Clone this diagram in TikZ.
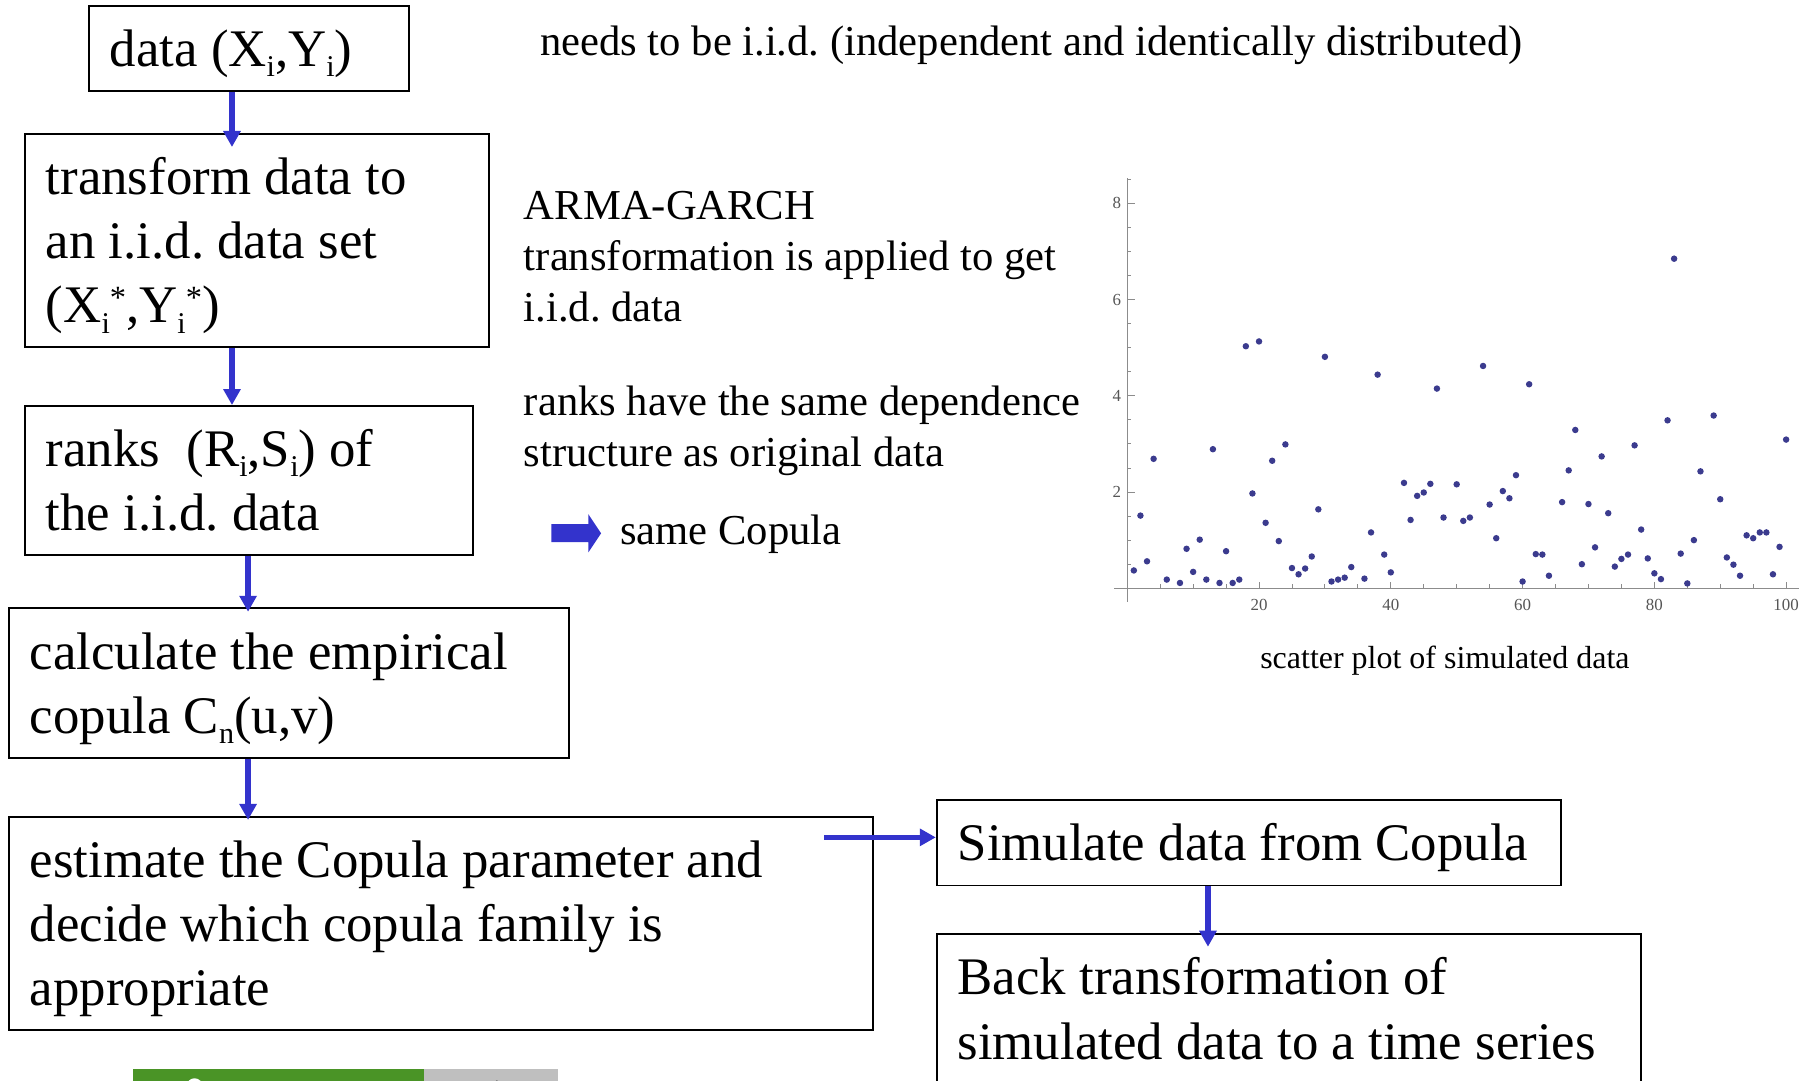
\documentclass[tikz,border=0pt]{standalone}
\usepackage{fontspec}
\setmainfont{Liberation Serif}
\usetikzlibrary{arrows.meta}
\definecolor{flowblue}{HTML}{3333CC}
\definecolor{dotblue}{HTML}{3B3B8E}
\definecolor{bargreen}{HTML}{4A9426}
\definecolor{bargrey}{HTML}{BFBFBF}
\definecolor{axisgrey}{HTML}{8C8C8C}
\definecolor{ticktext}{HTML}{555555}
\frenchspacing
\newcommand{\bxfont}{\fontsize{22.8pt}{27.7pt}\selectfont\hyphenpenalty=10000\exhyphenpenalty=10000}
\newcommand{\sdfont}{\fontsize{18.4pt}{22pt}\selectfont}
\newcommand{\bst}{\spaceskip=0pt\xspaceskip=0pt\rule[-5.5pt]{0pt}{26.5pt}}
\newcommand{\sst}{\spaceskip=0pt\xspaceskip=0pt\rule[-4pt]{0pt}{20pt}}
\newcommand{\sbx}[1]{\raisebox{-4.5pt}{\fontsize{13pt}{13pt}\selectfont #1}}
\newcommand{\spx}[1]{\raisebox{6pt}{\fontsize{14pt}{14pt}\selectfont #1}}
\begin{document}
\begin{tikzpicture}[x=0.5pt, y=-0.5pt,
  box/.style={draw, line width=0.85pt, anchor=north west, inner xsep=9pt, inner ysep=0pt, align=left, font=\bxfont},
  side/.style={inner sep=0pt, align=left, font=\sdfont},
  flow/.style={draw=flowblue, line width=2.4pt, -{Triangle[width=7.2pt,length=6.9pt]}},
  axl/.style={axisgrey, line width=0.5pt},
  ticklbl/.style={text=ticktext, font=\fontsize{7.3pt}{8pt}\selectfont, inner sep=0pt}]
\useasboundingbox (0,0) rectangle (1568,933);
\clip (0,0) rectangle (1568,933);

% flow boxes
\node[box, minimum width=138.2pt, minimum height=36.7pt, text width=120.2pt] (b1) at (76,4.3)
  {\bst data (X\sbx{i},Y\sbx{i})};
\node[box, minimum width=200.4pt, minimum height=92pt, text width=182.4pt] (b2) at (20.7,114.9)
  {\bst transform data to\\\bst an i.i.d. data set\\\bst (X\sbx{i}\spx{*},Y\sbx{i}\spx{*})};
\node[box, minimum width=193.5pt, minimum height=64.4pt, text width=175.5pt] (b3) at (20.7,349.7)
  {\bst ranks\ \ (R\sbx{i},S\sbx{i}) of\\\bst the i.i.d. data};
\node[box, minimum width=241.8pt, minimum height=64.8pt, text width=223.8pt] (b4) at (6.9,524.2)
  {\bst calculate the empirical\\\bst copula C\sbx{n}(u,v)};
\node[box, minimum width=372.9pt, minimum height=92pt, text width=354.9pt] (b5) at (6.9,704.7)
  {\bst estimate the Copula parameter and\\\bst decide which copula family is\\\bst appropriate};
\node[box, minimum width=269.5pt, minimum height=36.7pt, text width=251.5pt] (b6) at (808,690.3)
  {\bst Simulate data from Copula};
\node[box, minimum width=303.9pt, minimum height=65pt, text width=285.9pt] (b7) at (808,805.4)
  {\bst Back transformation of\\\bst simulated data to a time series};

% connectors
\coordinate (ax1) at (200.3,0);
\coordinate (ax3) at (214.2,0);
\coordinate (ax6) at (1043,0);
\coordinate (a5s) at (711.6,723);
\draw[flow, shorten >=-6pt] (b1.south -| ax1) -- (b2.north -| ax1);
\draw[flow] (b2.south -| ax1) -- (b3.north -| ax1);
\draw[flow, shorten >=-2pt] (b3.south -| ax3) -- (b4.north -| ax3);
\draw[flow, shorten >=-1.6pt] (b4.south -| ax3) -- (b5.north -| ax3);
\draw[flow] (a5s) -- (a5s -| b6.west);
\draw[flow, shorten >=-6pt] (b6.south -| ax6) -- (b7.north -| ax6);

% side texts
\node[side, anchor=base west] (n0) at (466,47.5)
  {needs to be i.i.d. (independent and identically distributed)};
\node[side, anchor=north west] (n1) at (452,157)
  {\sst ARMA-GARCH\\\sst transformation is applied to get\\\sst i.i.d. data};
\node[side, anchor=north west] (n2) at (452,326)
  {\sst ranks have the same dependence\\\sst structure as original data};
\fill[flowblue] (476,452.5) -- (508,452.5) -- (508,444) -- (519,460.5) -- (508,477) -- (508,468) -- (476,468) -- cycle;
\node[side, anchor=base west] (n3) at (535,470.5) {same Copula};

% scatter plot
\begin{scope}[shift={(973.3,507.9)}, x=2.8445pt, y=20.77pt]
  \draw[axl] (-2,0) -- (101.9,0);
  \draw[axl] (0,-0.28) -- (0,8.52);
  \foreach \t in {5,10,...,100} \draw[axisgrey, line width=0.4pt] (\t,0) -- (\t,0.08);
  \foreach \t in {20,40,60,80,100} {
    \draw[axisgrey, line width=0.4pt] (\t,0) -- (\t,0.14);
    \node[ticklbl, yshift=-7.2pt] (xl\t) at (\t,0) {\t};
  }
  \foreach \t in {0.5,1,...,8.5} \draw[axisgrey, line width=0.4pt] (0,\t) -- (0.55,\t);
  \foreach \t in {2,4,6,8} {
    \draw[axisgrey, line width=0.4pt] (0,\t) -- (1.1,\t);
    \node[ticklbl, xshift=-4.5pt] (yl\t) at (0,\t) {\t};
  }
  \foreach \i/\v in {1/0.37, 2/1.51, 3/0.56, 4/2.69, 6/0.18, 8/0.11, 9/0.82, 10/0.34, 11/1.01, 12/0.18,
    13/2.89, 14/0.11, 15/0.77, 16/0.11, 17/0.18, 18/5.03, 19/1.97, 20/5.13, 21/1.36, 22/2.65,
    23/0.98, 24/2.99, 25/0.42, 26/0.29, 27/0.41, 28/0.66, 29/1.64, 30/4.81, 31/0.14, 32/0.18,
    33/0.22, 34/0.44, 36/0.20, 37/1.16, 38/4.44, 39/0.70, 40/0.33, 42/2.19, 43/1.42, 44/1.92,
    45/1.99, 46/2.17, 47/4.15, 48/1.47, 50/2.16, 51/1.40, 52/1.47, 54/4.62, 55/1.74, 56/1.04,
    57/2.02, 58/1.87, 59/2.35, 60/0.14, 61/4.24, 62/0.71, 63/0.70, 64/0.26, 66/1.79, 67/2.45,
    68/3.29, 69/0.50, 70/1.75, 71/0.85, 72/2.74, 73/1.56, 74/0.45, 75/0.61, 76/0.70, 77/2.97,
    78/1.22, 79/0.62, 80/0.31, 81/0.19, 82/3.49, 83/6.85, 84/0.72, 85/0.10, 86/1.00, 87/2.43,
    89/3.59, 90/1.85, 91/0.64, 92/0.49, 93/0.26, 94/1.10, 95/1.04, 96/1.16, 97/1.16, 98/0.29,
    99/0.86, 100/3.09}
    \fill[dotblue] (\i,\v) circle[radius=1.4pt];
\end{scope}
\node[font=\fontsize{13.8pt}{16pt}\selectfont, anchor=base, inner sep=0pt] (cap) at (1247.6,577)
  {scatter plot of simulated data};

% cut-off bar at the bottom
\fill[bargreen] (114.9,923) rectangle (366.1,940);
\fill[bargrey] (366.1,923) rectangle (482,940);
\fill[white] (168,938) circle[radius=3.5pt];
\fill[black] (429,936) circle[radius=1.5pt];
\end{tikzpicture}
\end{document}
